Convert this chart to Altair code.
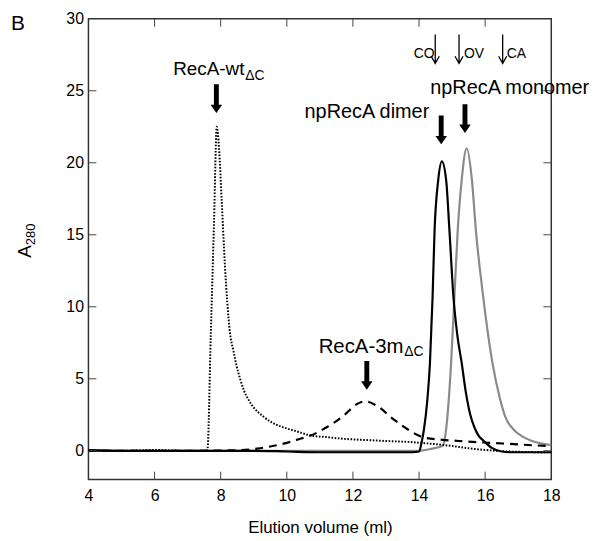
import altair as alt
import pandas as pd

# ---------------- data ----------------
# RecA-wt_dC (dotted)
wt_x = [4, 5, 6, 7, 7.55, 7.6, 7.7, 7.8, 7.88, 7.95, 8.03, 8.13, 8.2, 8.28, 8.38, 8.48,
        8.6, 8.7, 8.83, 9.0, 9.28, 9.6, 10.0, 10.3, 10.72, 11.2, 11.72, 12.2, 12.72,
        13.2, 13.72, 14.2, 14.72, 15.2, 15.7, 16.2, 16.7, 17.2, 17.7, 18]
wt_y = [0, 0, 0.05, 0, 0, 0.1, 8, 16, 22.5, 21, 17.4, 12.8, 10.3, 8.2, 7.0, 5.9,
        4.9, 4.2, 3.6, 3.0, 2.4, 1.9, 1.55, 1.35, 1.06, 0.95, 0.83, 0.77, 0.71,
        0.66, 0.61, 0.52, 0.41, 0.27, 0.12, 0.02, -0.05, -0.08, -0.1, -0.1]

# RecA-3m_dC (dashed)
m3_x = [4, 5, 6, 7, 8, 8.6, 9.1, 9.5, 10.0, 10.3, 10.72, 11.22, 11.72, 12.12, 12.37,
        12.72, 13.22, 13.72, 14.12, 14.72, 15.2, 15.72, 16.2, 16.72, 17.3, 18]
m3_y = [0, 0, 0, 0, 0.02, 0.05, 0.15, 0.3, 0.55, 0.76, 1.06, 1.65, 2.44, 3.24, 3.43,
        3.13, 2.2, 1.4, 0.94, 0.76, 0.68, 0.6, 0.55, 0.48, 0.4, 0.32]

# npRecA dimer (solid black)
di_x = [4, 5, 6, 7, 8, 9, 10, 11, 12, 13, 13.8, 14.0, 14.08, 14.15, 14.25, 14.33, 14.41,
        14.47, 14.58, 14.69, 14.82, 14.92, 15.04, 15.16, 15.29, 15.42, 15.55, 15.68,
        15.8, 15.95, 16.2, 16.5, 16.8, 17.5, 18]
di_y = [0.05, 0, 0, 0, 0, 0, -0.05, -0.1, -0.1, -0.1, -0.1, -0.05, 0.6, 1.5, 3.5, 6.1,
        10.7, 15.3, 18.8, 20.1, 18.8, 15.3, 10.7, 8.0, 6.1, 4.0, 2.5, 1.6,
        1.05, 0.7, 0.2, -0.05, -0.1, -0.1, -0.1]

# npRecA monomer (solid grey)
mo_x = [4, 5, 6, 7, 8, 9, 10, 11, 12, 13, 14.0, 14.4, 14.72, 14.82, 14.97, 15.07, 15.17,
        15.29, 15.44, 15.6, 15.72, 15.94, 16.22, 16.45, 16.62, 16.85, 17.12, 17.4,
        17.72, 18]
mo_y = [0, 0, 0, 0, 0, 0, 0, 0, 0, 0, 0.0, 0.15, 0.35, 1.5, 6.1, 10.7, 15.3,
        18.8, 21.0, 18.8, 15.3, 10.7, 6.1, 3.6, 2.3, 1.5, 1.0, 0.7,
        0.5, 0.4]

# axis ticks
x_ticks = [4, 6, 8, 10, 12, 14, 16, 18]
x_inner_ticks = [6, 8, 10, 12, 14, 16]
y_ticks = [0, 5, 10, 15, 20, 25, 30]
y_inner_ticks = [0, 5, 10, 15, 20, 25]

# annotations (data coordinates)
rtext = ["RecA-wt", "RecA-3m", "npRecA dimer"]
rtext_x = [8.72, 13.53, 14.31]
rtext_y = [26.07, 6.8, 23.1]
rtext_size = [19, 20.5, 20]
ltext = ["npRecA monomer"]
ltext_x = [14.34]
ltext_y = [24.76]
sub_text = ["ΔC", "ΔC"]
sub_x = [8.74, 13.55]
sub_y = [25.76, 6.57]
std_text = ["CO", "OV", "CA"]
std_x = [14.47, 15.36, 16.65]
std_y = [27.26, 27.26, 27.26]
std_align_right = [True, False, False]
big_arrow_x = [7.87, 14.67, 15.39, 12.42]
big_arrow_y = [24.45, 22.28, 23.07, 5.24]
thin_arrow_x = [14.49, 15.21, 16.53]
thin_arrow_y = [27.9, 27.9, 27.9]

# ---------------- chart ----------------
W, H = 466, 464
FONT = "Liberation Sans"
xs = alt.Scale(domain=[4, 18], nice=False, zero=False)
ys = alt.Scale(domain=[-2, 30], nice=False, zero=False)
X_TITLE = "Elution volume (ml)"

X_axis = alt.Axis(values=x_ticks, ticks=False, domain=False, grid=False, labelFontSize=16,
                  labelFont=FONT, labelColor="black", labelPadding=8, titleFont=FONT,
                  titleFontSize=17, titleFontWeight="normal", titleColor="black",
                  titlePadding=16, labelFlush=False, title=X_TITLE)
Y_axis = alt.Axis(values=y_ticks, ticks=False, domain=False, grid=False, labelFontSize=16,
                  labelFont=FONT, labelColor="black", labelPadding=5, title="",
                  labelFlush=False)


def xq():
    return alt.X("v:Q", scale=xs, axis=X_axis, title=X_TITLE)


def yq():
    return alt.Y("a:Q", scale=ys, axis=Y_axis, title="")


def series(xv, yv):
    return pd.DataFrame({"v": xv, "a": yv, "i": list(range(len(xv)))})


def line(df, **kw):
    return alt.Chart(df).mark_line(interpolate="monotone", **kw).encode(
        x=xq(), y=yq(), order="i:Q")


mono = line(series(mo_x, mo_y), color="#8a8a8a", strokeWidth=2.2)
wt = line(series(wt_x, wt_y), color="black", strokeWidth=2, strokeDash=[1.6, 1.6])
m3 = line(series(m3_x, m3_y), color="black", strokeWidth=2.2, strokeDash=[8, 6])
di = line(series(di_x, di_y), color="black", strokeWidth=2.2)

# inner ticks
tick_color = "#444"
bt = alt.Chart(pd.DataFrame({"v": x_inner_ticks})).mark_rule(color=tick_color).encode(
    x=xq(), y=alt.value(H), y2=alt.value(H - 8))
tt = alt.Chart(pd.DataFrame({"v": x_inner_ticks})).mark_rule(color=tick_color).encode(
    x=xq(), y=alt.value(0), y2=alt.value(8))
lt = alt.Chart(pd.DataFrame({"a": y_inner_ticks})).mark_rule(color=tick_color).encode(
    y=yq(), x=alt.value(0), x2=alt.value(8))
rt = alt.Chart(pd.DataFrame({"a": y_inner_ticks})).mark_rule(color=tick_color).encode(
    y=yq(), x=alt.value(W), x2=alt.value(W - 8))

# annotation texts
t_right = alt.Chart(pd.DataFrame({"t": rtext, "v": rtext_x, "a": rtext_y, "s": rtext_size})).mark_text(
    align="right", baseline="alphabetic", font=FONT, color="black").encode(
    x=xq(), y=yq(), text="t:N", size=alt.Size("s:Q", scale=None))
t_left = alt.Chart(pd.DataFrame({"t": ltext, "v": ltext_x, "a": ltext_y})).mark_text(
    align="left", baseline="alphabetic", font=FONT, fontSize=20, color="black").encode(
    x=xq(), y=yq(), text="t:N")
t_sub = alt.Chart(pd.DataFrame({"t": sub_text, "v": sub_x, "a": sub_y})).mark_text(
    align="left", baseline="alphabetic", font=FONT, fontSize=14, color="black").encode(
    x=xq(), y=yq(), text="t:N")
std_df = pd.DataFrame({"t": std_text, "v": std_x, "a": std_y, "r": std_align_right})
t_std_r = alt.Chart(std_df).transform_filter("datum.r").mark_text(
    align="right", baseline="alphabetic", font=FONT, fontSize=14, color="black").encode(
    x=xq(), y=yq(), text="t:N")
t_std_l = alt.Chart(std_df).transform_filter("!datum.r").mark_text(
    align="left", baseline="alphabetic", font=FONT, fontSize=14, color="black").encode(
    x=xq(), y=yq(), text="t:N")

BIG = "M-0.17,-1L0.17,-1L0.17,0.42L0.4,0.42L0,1L-0.4,0.42L-0.17,0.42Z"
THIN = "M0,-1L0,1M-0.28,0.5L0,1L0.28,0.5"
big_arrows = alt.Chart(pd.DataFrame({"v": big_arrow_x, "a": big_arrow_y})).mark_point(
    shape=BIG, filled=True, color="black", size=841, opacity=1).encode(x=xq(), y=yq())
thin_arrows = alt.Chart(pd.DataFrame({"v": thin_arrow_x, "a": thin_arrow_y})).mark_point(
    shape=THIN, filled=False, color="black", size=841, strokeWidth=1.3, opacity=1).encode(
    x=xq(), y=yq())

# y title A280 (with subscript) and panel letter
ytitle_main = alt.Chart(pd.DataFrame({"t": ["A"]})).mark_text(
    align="right", baseline="alphabetic", angle=270, font=FONT, fontSize=19,
    color="black").encode(x=alt.value(-58), y=alt.value(228), text="t:N")
ytitle_sub = alt.Chart(pd.DataFrame({"t": ["280"]})).mark_text(
    align="left", baseline="alphabetic", angle=270, font=FONT, fontSize=13,
    color="black").encode(x=alt.value(-54), y=alt.value(228), text="t:N")
panel = alt.Chart(pd.DataFrame({"t": ["B"]})).mark_text(
    align="center", baseline="middle", font=FONT, fontSize=21, color="black").encode(
    x=alt.value(-71), y=alt.value(5), text="t:N")

chart = alt.layer(
    mono, wt, m3, di, bt, tt, lt, rt,
    t_right, t_left, t_sub, t_std_r, t_std_l, big_arrows, thin_arrows,
    ytitle_main, ytitle_sub, panel,
).properties(
    width=W, height=H,
    autosize=alt.AutoSizeParams(type="none"),
    padding={"left": 81, "top": 9, "right": 40, "bottom": 58},
    background="white",
).configure_view(stroke="#333", strokeWidth=1.5)

chart.save("out.html", embed_options={"renderer": "svg", "actions": False})
